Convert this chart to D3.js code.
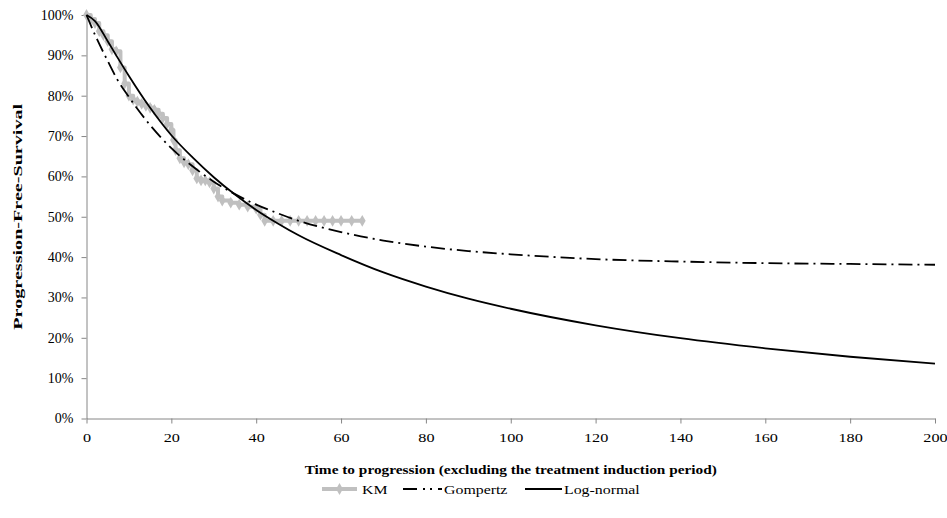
<!DOCTYPE html>
<html>
<head>
<meta charset="utf-8">
<script src="https://cdn.jsdelivr.net/npm/d3@7"></script>
<style>
  html, body { margin: 0; padding: 0; background: #fff; }
  svg { display: block; }
  text { font-family: "Liberation Serif", "Times New Roman", serif; fill: #000; }
</style>
</head>
<body>
<svg id="chart" width="947" height="518"></svg>
<script>
// ---- Data ----
const kmTime = [0, 1, 2, 3, 4, 5, 6, 7, 8, 9, 10, 11, 12, 13, 14, 15, 16, 17, 18, 19, 20, 20.5, 21, 22, 23, 24, 25, 26, 27, 28, 29, 30, 31, 32, 34, 36, 38, 40, 41, 42, 44, 46, 48, 50, 52, 54, 56, 58, 60, 62.5, 65];
const kmSurv = [1.00, 0.99, 0.98, 0.96, 0.95, 0.935, 0.915, 0.91, 0.87, 0.83, 0.80, 0.79, 0.785, 0.78, 0.775, 0.77, 0.765, 0.755, 0.745, 0.73, 0.715, 0.69, 0.665, 0.645, 0.635, 0.63, 0.615, 0.595, 0.59, 0.59, 0.585, 0.57, 0.55, 0.54, 0.535, 0.53, 0.525, 0.52, 0.505, 0.49, 0.49, 0.49, 0.49, 0.49, 0.49, 0.49, 0.49, 0.49, 0.49, 0.49, 0.49];

const fitTime = [0, 2, 5, 7, 10, 15, 20, 25, 30, 35, 40, 45, 50, 60, 70, 80, 90, 100, 120, 140, 160, 180, 200];
const gompertz = [1.00, 0.951, 0.886, 0.845, 0.797, 0.727, 0.670, 0.625, 0.587, 0.556, 0.530, 0.509, 0.490, 0.462, 0.441, 0.426, 0.415, 0.407, 0.395, 0.389, 0.385, 0.383, 0.381];
const logNormal = [1.00, 0.985, 0.935, 0.900, 0.849, 0.770, 0.702, 0.647, 0.598, 0.555, 0.517, 0.484, 0.454, 0.405, 0.362, 0.327, 0.297, 0.272, 0.231, 0.199, 0.174, 0.153, 0.136];

const xTicks = [0, 20, 40, 60, 80, 100, 120, 140, 160, 180, 200];
const yTicks = [0, 0.1, 0.2, 0.3, 0.4, 0.5, 0.6, 0.7, 0.8, 0.9, 1.0];
const seriesNames = ["KM", "Gompertz", "Log-normal"];

// ---- Layout ----
const svg = d3.select("#chart");
const pLeft = 86.5, pRight = 935, pTop = 15, pBottom = 418.5;
const x = d3.scaleLinear().domain([0, 200]).range([pLeft, pRight]);
const y = d3.scaleLinear().domain([0, 1]).range([pBottom, pTop]);
const axisColor = "#868686";
const kmColor = "#c0c0c0";
const gompDash = "14,5,2,5";
const textStretch = 1.2;

// axes
const xAxis = svg.append("g").attr("transform", `translate(0,${pBottom})`)
  .call(d3.axisBottom(x).tickValues(xTicks).tickSize(5).tickSizeOuter(0).tickPadding(9).tickFormat(d3.format("d")));
const yAxis = svg.append("g").attr("transform", `translate(${pLeft},0)`)
  .call(d3.axisLeft(y).tickValues(yTicks).tickSize(5).tickSizeOuter(0).tickPadding(8).tickFormat(d3.format(".0%")));
[xAxis, yAxis].forEach(g => {
  g.select(".domain").attr("stroke", axisColor).attr("stroke-width", 1);
  g.selectAll(".tick line").attr("stroke", axisColor);
  g.selectAll(".tick text").attr("font-size", 13.5).attr("font-family", "Liberation Serif").attr("fill", "#000");
});
xAxis.selectAll(".tick text").attr("transform", `scale(${textStretch},1)`);
yAxis.selectAll(".tick text").attr("font-size", 14);

// lines
const kmPts = kmTime.map((t, i) => [t, kmSurv[i]]);
const gPts = fitTime.map((t, i) => [t, gompertz[i]]);
const lPts = fitTime.map((t, i) => [t, logNormal[i]]);

const lineStep = d3.line().x(d => x(d[0])).y(d => y(d[1])).curve(d3.curveStepAfter);
const lineSmooth = d3.line().x(d => x(d[0])).y(d => y(d[1])).curve(d3.curveMonotoneX);

svg.append("path").datum(kmPts).attr("d", lineStep)
  .attr("fill", "none").attr("stroke", kmColor).attr("stroke-width", 4).attr("stroke-linejoin", "round");

const diamond = d3.symbol().type(d3.symbolDiamond).size(40);
svg.append("g").selectAll("path").data(kmPts).join("path")
  .attr("transform", d => `translate(${x(d[0])},${y(d[1])})`)
  .attr("d", diamond).attr("fill", kmColor);

svg.append("path").datum(gPts).attr("d", lineSmooth)
  .attr("fill", "none").attr("stroke", "#000").attr("stroke-width", 1.8).attr("stroke-dasharray", gompDash);
svg.append("path").datum(lPts).attr("d", lineSmooth)
  .attr("fill", "none").attr("stroke", "#000").attr("stroke-width", 1.8);

// axis titles
svg.append("g").attr("transform", `translate(${(pLeft + pRight) / 2},474) scale(1.18,1)`)
  .append("text").attr("text-anchor", "middle").attr("font-size", 13).attr("font-weight", "bold")
  .text("Time to progression (excluding the treatment induction period)");
svg.append("g").attr("transform", `translate(22,${(pTop + pBottom) / 2}) rotate(-90) scale(1.55,1)`)
  .append("text").attr("text-anchor", "middle").attr("font-size", 13).attr("font-weight", "bold")
  .text("Progression-Free-Survival");

// legend
const legendY = 489;
const legendItems = [
  { name: seriesNames[0], x1: 322, x2: 357, tx: 362, stroke: kmColor, w: 4, dash: null, marker: true },
  { name: seriesNames[1], x1: 403, x2: 442, tx: 444, stroke: "#000", w: 1.8, dash: "14,6,2,5,2,6", marker: false },
  { name: seriesNames[2], x1: 525, x2: 562, tx: 564, stroke: "#000", w: 1.8, dash: null, marker: false }
];
const lg = svg.append("g");
legendItems.forEach(it => {
  lg.append("line").attr("x1", it.x1).attr("x2", it.x2).attr("y1", legendY).attr("y2", legendY)
    .attr("stroke", it.stroke).attr("stroke-width", it.w).attr("stroke-dasharray", it.dash);
  if (it.marker) {
    lg.append("path").attr("transform", `translate(${(it.x1 + it.x2) / 2},${legendY})`)
      .attr("d", diamond).attr("fill", kmColor);
  }
  lg.append("g").attr("transform", `translate(${it.tx},${legendY}) scale(1.22,1)`)
    .append("text").attr("dy", "0.35em").attr("font-size", 13).text(it.name);
});
</script>
</body>
</html>
